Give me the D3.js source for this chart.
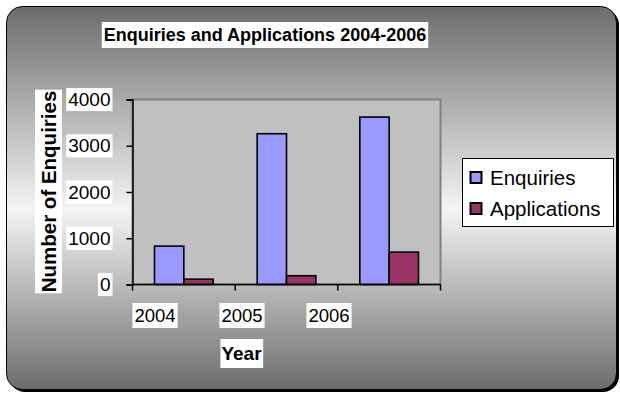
<!DOCTYPE html>
<html>
<head>
<meta charset="utf-8">
<script src="https://cdn.jsdelivr.net/npm/d3@7"></script>
<style>
  html, body { margin: 0; padding: 0; background: #ffffff; }
  svg { display: block; font-family: Arial, "Liberation Sans", sans-serif; }
</style>
</head>
<body>
<svg id="chart" width="620" height="396"></svg>
<script>
// Chart data
const years = ["2004", "2005", "2006"];
const seriesNames = ["Enquiries", "Applications"];
const enquiries = [830, 3260, 3620];
const applications = [115, 190, 700];
const yTicks = [0, 1000, 2000, 3000, 4000];
const seriesColors = ["#9999ff", "#993366"];

const svg = d3.select("#chart");

// Background gradient: grey at top and bottom, near white through the middle
const defs = svg.append("defs");
const grad = defs.append("linearGradient")
  .attr("id", "bg").attr("x1", 0).attr("y1", 0).attr("x2", 0).attr("y2", 1);
grad.append("stop").attr("offset", "0%").attr("stop-color", "#6c6c6c");
grad.append("stop").attr("offset", "53%").attr("stop-color", "#f4f4f4");
grad.append("stop").attr("offset", "100%").attr("stop-color", "#6c6c6c");

// Chart frame with drop shadow
svg.append("rect")
  .attr("x", 9).attr("y", 9).attr("width", 610).attr("height", 383)
  .attr("rx", 16).attr("fill", "#000");
svg.append("rect")
  .attr("x", 6.5).attr("y", 6.5).attr("width", 610).attr("height", 383)
  .attr("rx", 16).attr("fill", "url(#bg)").attr("stroke", "#000").attr("stroke-width", 1);

// Helper: text on a white label box
function boxedText(g, padX, padY) {
  g.each(function () {
    const t = d3.select(this);
    const b = this.getBBox();
    d3.select(this.parentNode).insert("rect", () => this)
      .attr("x", b.x - padX).attr("y", b.y - padY)
      .attr("width", b.width + 2 * padX).attr("height", b.height + 2 * padY)
      .attr("fill", "#fff")
      .attr("transform", t.attr("transform"));
  });
}

// Plot area
const plot = { left: 132.5, right: 440.5, top: 99.5, bottom: 284.5 };

const x = d3.scaleBand().domain(years).range([plot.left, plot.right]).paddingInner(0).paddingOuter(0);
const xSub = d3.scaleBand().domain(seriesNames).range([0, x.bandwidth()]).paddingInner(0).paddingOuter(0.75);
const y = d3.scaleLinear().domain([0, 4000]).range([plot.bottom, plot.top]);

svg.append("rect")
  .attr("x", plot.left).attr("y", plot.top)
  .attr("width", plot.right - plot.left).attr("height", plot.bottom - plot.top)
  .attr("fill", "#c0c0c0").attr("stroke", "#808080").attr("stroke-width", 2);

// Bars
const rows = years.map((yr, i) => ({ year: yr, values: [enquiries[i], applications[i]] }));
const groups = svg.append("g").selectAll("g").data(rows).join("g")
  .attr("transform", d => `translate(${x(d.year)},0)`);
groups.selectAll("rect")
  .data(d => d.values.map((v, j) => ({ name: seriesNames[j], value: v, color: seriesColors[j] })))
  .join("rect")
  .attr("x", d => xSub(d.name))
  .attr("y", d => y(d.value))
  .attr("width", xSub.bandwidth())
  .attr("height", d => y(0) - y(d.value))
  .attr("fill", d => d.color)
  .attr("stroke", "#000").attr("stroke-width", 1.6);

// Y axis
const yAxis = svg.append("g")
  .attr("transform", `translate(${plot.left},0)`)
  .call(d3.axisLeft(y).tickValues(yTicks).tickSize(6).tickPadding(16).tickFormat(d3.format("d")));
yAxis.select(".domain").attr("stroke", "#000").attr("stroke-width", 1.5);
yAxis.selectAll(".tick line").attr("stroke", "#000").attr("stroke-width", 1.5);
yAxis.selectAll(".tick text")
  .attr("font-size", 19).attr("fill", "#000")
  .attr("font-family", "Arial, 'Liberation Sans', sans-serif");
boxedText(yAxis.selectAll(".tick text"), 2, 1);

// X axis: line and ticks at category boundaries
const xAxis = svg.append("g")
  .attr("transform", `translate(0,${plot.bottom})`);
xAxis.append("line")
  .attr("x1", plot.left).attr("x2", plot.right)
  .attr("stroke", "#000").attr("stroke-width", 1.5);
const boundaries = years.map(yr => x(yr)).concat([x(years[years.length - 1]) + x.bandwidth()]);
xAxis.selectAll("line.tick").data(boundaries).join("line")
  .attr("class", "tick")
  .attr("x1", d => d).attr("x2", d => d).attr("y1", 0).attr("y2", 6)
  .attr("stroke", "#000").attr("stroke-width", 1.5);

// Category labels
const xLabel = d3.scalePoint().domain(years).range([155, 329]);
const xLabels = svg.append("g");
xLabels.selectAll("text").data(years).join("text")
  .attr("x", d => xLabel(d)).attr("y", 322)
  .attr("text-anchor", "middle")
  .attr("font-size", 18.5).attr("fill", "#000")
  .text(d => d);
boxedText(xLabels.selectAll("text"), 2, 2);

// Title
const titleG = svg.append("g");
titleG.append("text")
  .attr("x", 265).attr("y", 41)
  .attr("text-anchor", "middle")
  .attr("font-size", 18).attr("font-weight", "bold").attr("fill", "#000")
  .text("Enquiries and Applications 2004-2006");
boxedText(titleG.selectAll("text"), 2, 3);

// Axis titles
const xTitle = svg.append("g");
xTitle.append("text")
  .attr("x", 241.5).attr("y", 360)
  .attr("text-anchor", "middle")
  .attr("font-size", 19).attr("font-weight", "bold").attr("fill", "#000")
  .text("Year");
boxedText(xTitle.selectAll("text"), 1, 4);

const yTitle = svg.append("g");
yTitle.append("text")
  .attr("transform", "translate(56,191.5) rotate(-90)")
  .attr("text-anchor", "middle")
  .attr("font-size", 20.5).attr("font-weight", "bold").attr("fill", "#000")
  .text("Number of Enquiries");
boxedText(yTitle.selectAll("text"), 1, 2);

// Legend
const legend = svg.append("g").attr("transform", "translate(462.5,158.5)");
legend.append("rect")
  .attr("width", 151).attr("height", 68)
  .attr("fill", "#fff").attr("stroke", "#000").attr("stroke-width", 1);
const legendY = d3.scalePoint().domain(seriesNames).range([19, 50]);
const items = legend.selectAll("g.item").data(seriesNames).join("g")
  .attr("class", "item")
  .attr("transform", d => `translate(0,${legendY(d)})`);
items.append("rect")
  .attr("x", 8).attr("y", -5.5).attr("width", 11).attr("height", 11)
  .attr("fill", (d, i) => seriesColors[i])
  .attr("stroke", "#000").attr("stroke-width", 2);
items.append("text")
  .attr("x", 27.5).attr("y", 7.5)
  .attr("font-size", 20.5).attr("fill", "#000")
  .text(d => d);
</script>
</body>
</html>
